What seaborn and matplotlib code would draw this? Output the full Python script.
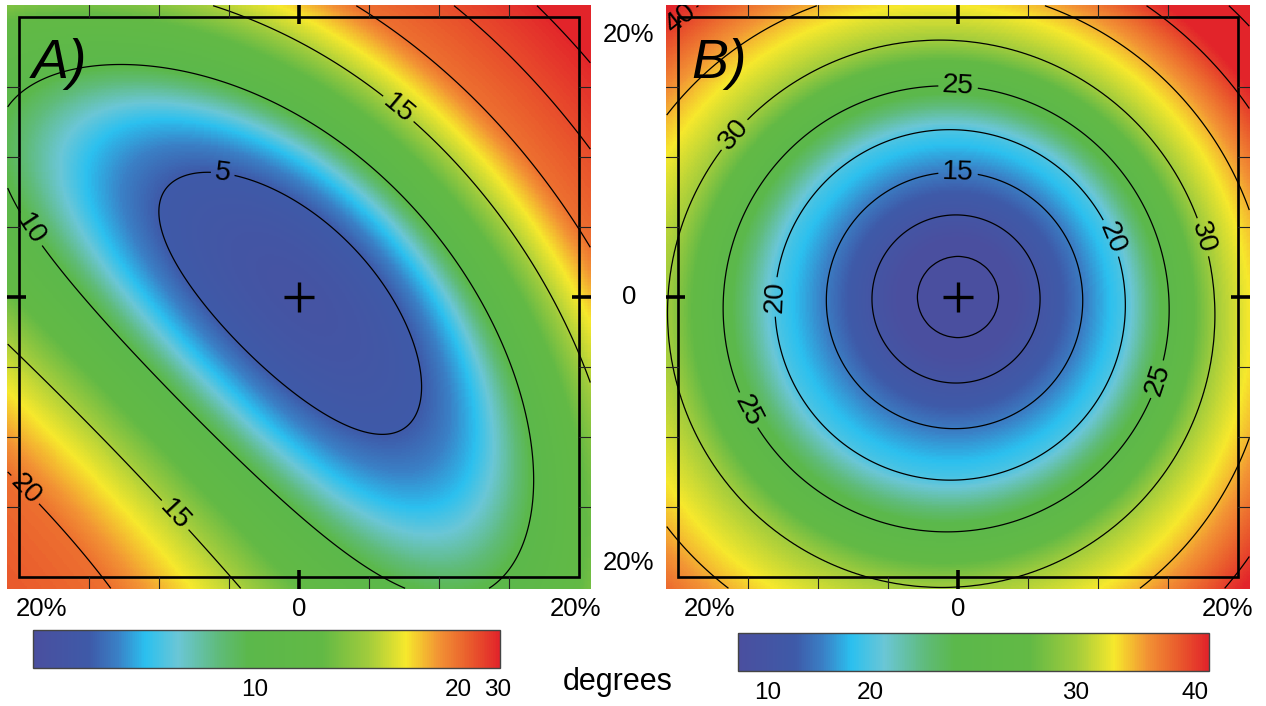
import numpy as np
import pandas as pd
import matplotlib
matplotlib.use("Agg")
import matplotlib.pyplot as plt
from matplotlib import colors as mcolors
from matplotlib.patches import Rectangle
import seaborn as sns

# ---- values ----------------------------------------------------------------
# panel A: points (x %, y %) where each contour level (degrees) runs
pts_a = {
    5: [(-9.57, 5.50), (-6.14, 8.36), (-0.14, 6.43), (6.79, -0.21),
        (8.29, -5.50), (5.57, -9.50), (-0.14, -7.14), (-7.07, -0.21)],
    10: [(-20.86, 14.93), (-15.43, 16.79), (0.07, 12.64), (4.64, 10.29),
         (9.36, 6.00), (12.71, -0.21), (16.79, -14.29), (15.07, -20.71),
         (8.64, -20.71), (-0.14, -15.21), (-15.43, -0.21), (-19.21, 5.50),
         (-20.86, 8.57)],
    15: [(-5.14, 20.71), (0.07, 18.14), (6.79, 13.36), (11.79, 8.14),
         (17.93, 0.00), (20.93, -5.93), (-20.79, -3.36), (-8.71, -15.93),
         (-4.50, -20.71)],
    20: [(4.14, 20.71), (9.36, 17.64), (14.14, 11.71), (20.93, 3.57),
         (-20.79, -12.93), (-13.86, -20.71)],
    25: [(11.07, 20.71), (20.93, 10.50)],
    30: [(16.50, 20.71), (20.93, 16.07)],
}
# single readings: minimum, and the colour at the four corners
spots_a = [(-0.3, -0.4, 1.5), (-20.86, 20.71, 14.5), (20.93, -20.71, 14.0),
           (20.93, 20.71, 33.0), (-20.86, -20.71, 23.5)]

# panel B: almost round contours, a little tighter towards the upper right
levels_b = [2, 5, 10, 15, 20, 25, 30, 35, 40, 45, 55]
radius_ne_b = [0, 2.9, 5.8, 8.8, 11.7, 14.7, 17.8, 21.4, 24.7, 28.4, 36.0]
radius_sw_b = [0, 2.9, 6.2, 9.5, 13.3, 17.1, 21.2, 26.5, 31.4, 36.5, 47.0]

contours_a = [5, 10, 15, 20, 25, 30]
contours_b = [5, 10, 15, 20, 25, 30, 35, 40, 45]

# colour bars: value -> position along the bar, and the labelled ticks
bar_vals_a = [0, 5, 7.2, 10, 15, 20, 30.5]
bar_pos_a = [0, 0.12, 0.24, 0.475, 0.73, 0.91, 1.0]
bar_ticks_a = [10, 20, 30]
bar_vals_b = [7, 10, 20, 30, 40, 41.2]
bar_pos_b = [0, 0.064, 0.28, 0.716, 0.97, 1.0]
bar_ticks_b = [10, 20, 30, 40]

axis_labels = ["20%", "0", "20%"]
frame_ticks = [-15, -10, -5, 5, 10, 15]

cmap = mcolors.LinearSegmentedColormap.from_list("spectrum", [
    (0.00, "#4a4f9f"), (0.12, "#3e5aa8"), (0.18, "#3a80c6"),
    (0.24, "#2bc0ef"), (0.31, "#6ac6d6"), (0.40, "#5fbb78"),
    (0.46, "#5bb84b"), (0.62, "#62b945"), (0.72, "#a2cc3c"),
    (0.80, "#f6e82c"), (0.87, "#f29334"), (0.94, "#e9582c"),
    (1.00, "#e2242a")])

# ---- fields on a 0.1 % grid ---------------------------------------------------
step = 0.1
grid = np.arange(-208, 209) * step
X, Y = np.meshgrid(grid, grid)

# A: smooth surface through the read contour points
px = [p[0] for lv in pts_a for p in pts_a[lv]] + [s[0] for s in spots_a]
py = [p[1] for lv in pts_a for p in pts_a[lv]] + [s[1] for s in spots_a]
pf = [lv for lv in pts_a for p in pts_a[lv]] + [s[2] for s in spots_a]
px, py, pf = np.array(px) / 20, np.array(py) / 20, np.array(pf, dtype=float)
wt = np.select([pf <= 5, pf == 10], [3.0, 2.0], 1.0)
powers = [(i, j) for i in range(5) for j in range(5 - i)]


def design(x, y):
    return np.stack([x ** i * y ** j for i, j in powers], axis=-1)


M = design(px, py) * wt[:, None]
q = (pf / 5) ** 1.7 * wt
coef = np.linalg.solve(M.T @ M + 1e-4 * np.eye(len(powers)), M.T @ q)
field_a = 5 * np.clip(design(X / 20, Y / 20) @ coef, 0, None) ** (1 / 1.7)

# B: interpolate between the read radii, blended by direction
r = np.hypot(X, Y)
w = (1 + np.cos(np.arctan2(Y, X) - np.pi / 4)) / 2
R = w[..., None] * np.array(radius_ne_b) + (1 - w[..., None]) * np.array(radius_sw_b)
lev = np.array(levels_b, dtype=float)
idx = np.clip((R < r[..., None]).sum(-1), 1, len(lev) - 1)
R0 = np.take_along_axis(R, (idx - 1)[..., None], -1)[..., 0]
R1 = np.take_along_axis(R, idx[..., None], -1)[..., 0]
field_b = lev[idx - 1] + (r - R0) / (R1 - R0) * (lev[idx] - lev[idx - 1])


def bar_norm(vals, pos):
    return mcolors.FuncNorm((lambda x: np.interp(x, vals, pos),
                             lambda s: np.interp(s, pos, vals)),
                            vmin=vals[0], vmax=vals[-1])


# ---- figure -------------------------------------------------------------------
sns.set_theme(style="white")
plt.rcParams["font.family"] = ["Liberation Sans", "DejaVu Sans"]
plt.rcParams["text.color"] = "black"
plt.rcParams["xtick.color"] = "black"

W, H = 1266, 706
fig = plt.figure(figsize=(W / 100, H / 100), dpi=100)


def px_axes(left, top, width, height):
    return fig.add_axes([left / W, 1 - (top + height) / H, width / W, height / H])


def ix(x):
    return (x - grid[0]) / step + 0.5


def iy(y):
    return (grid[-1] - y) / step + 0.5


panels = [
    (299, field_a, bar_norm(bar_vals_a, bar_pos_a), contours_a,
     [(6.9, 13.2), (-5.5, 8.4), (-19.2, 4.8), (-19.6, -13.8), (-9.2, -15.9)],
     "A)", (33, 630, 467), bar_ticks_a, (16, 601)),
    (958, field_b, bar_norm(bar_vals_b, bar_pos_b), contours_b,
     [(0, 14.9), (-16.1, 11.7), (0, 8.7), (10.7, 4.1), (17.6, 4.3),
      (-12.9, 0), (14.3, -5.9), (-15.2, -8.2), (-19.7, 19.7)],
     "B)", (738, 633, 471), bar_ticks_b, (684, 1253)),
]

n = len(grid)
edge = grid[-1] + step / 2
for cx, field, norm, clevels, lab_pos, letter, bar, ticks, xlab in panels:
    ax = px_axes(cx - 292, 5, 584, 584)
    sns.heatmap(pd.DataFrame(field[::-1]), ax=ax, cmap=cmap, norm=norm,
                cbar=False, xticklabels=False, yticklabels=False)
    mesh = ax.collections[0]

    cs = ax.contour(np.arange(n) + 0.5, np.arange(n) + 0.5, field[::-1],
                    levels=clevels, colors="black", linewidths=0.9)
    ax.clabel(cs, fmt="%d", fontsize=20.5, inline=True, inline_spacing=4,
              manual=[(ix(x), iy(y)) for x, y in lab_pos])

    ax.add_patch(Rectangle((ix(-20), iy(20)), 40 / step, 40 / step,
                           fill=False, ec="black", lw=1.9, zorder=5))
    for tk in frame_ticks:
        for a, b in [((tk, 20), (tk, edge)), ((tk, -20), (tk, -edge)),
                     ((-20, tk), (-edge, tk)), ((20, tk), (edge, tk))]:
            ax.plot([ix(a[0]), ix(b[0])], [iy(a[1]), iy(b[1])],
                    color="#222222", lw=0.8, zorder=5)
    for a, b in [((0, edge), (0, 19.5)), ((0, -edge), (0, -19.5)),
                 ((-edge, 0), (-19.5, 0)), ((edge, 0), (19.5, 0))]:
        ax.plot([ix(a[0]), ix(b[0])], [iy(a[1]), iy(b[1])],
                color="black", lw=2.6, solid_capstyle="butt", zorder=6)
    ax.plot(ix(0), iy(0), marker="+", ms=22, mew=2.4, color="black", zorder=6)

    fig.text((cx - 267) / W, 1 - 78 / H, letter, fontsize=40, style="italic",
             family=["Liberation Sans Narrow", "Liberation Sans", "DejaVu Sans"],
             va="baseline", ha="left")

    # labels under the panel
    fig.text(xlab[0] / W, 1 - 609 / H, axis_labels[0], fontsize=18.5, ha="left", va="center")
    fig.text(cx / W, 1 - 609 / H, axis_labels[1], fontsize=18.5, ha="center", va="center")
    fig.text(xlab[1] / W, 1 - 609 / H, axis_labels[2], fontsize=18.5, ha="right", va="center")

    # colour bar
    cax = px_axes(bar[0], bar[1], bar[2], 38)
    cb = fig.colorbar(mesh, cax=cax, orientation="horizontal", ticks=ticks)
    cb.outline.set_edgecolor("#444444")
    cb.outline.set_linewidth(1.0)
    cax.tick_params(length=0, labelsize=17.5, pad=8)

# labels between the panels
fig.text(629 / W, 1 - 23 / H, axis_labels[0], fontsize=18.5, ha="center", va="top")
fig.text(629 / W, 1 - 297 / H, axis_labels[1], fontsize=18.5, ha="center", va="center")
fig.text(629 / W, 1 - 575 / H, axis_labels[2], fontsize=18.5, ha="center", va="bottom")
fig.text(618 / W, 1 - 682 / H, "degrees", fontsize=22, ha="center", va="center")

fig.savefig("out.png", dpi=100, facecolor="white")
